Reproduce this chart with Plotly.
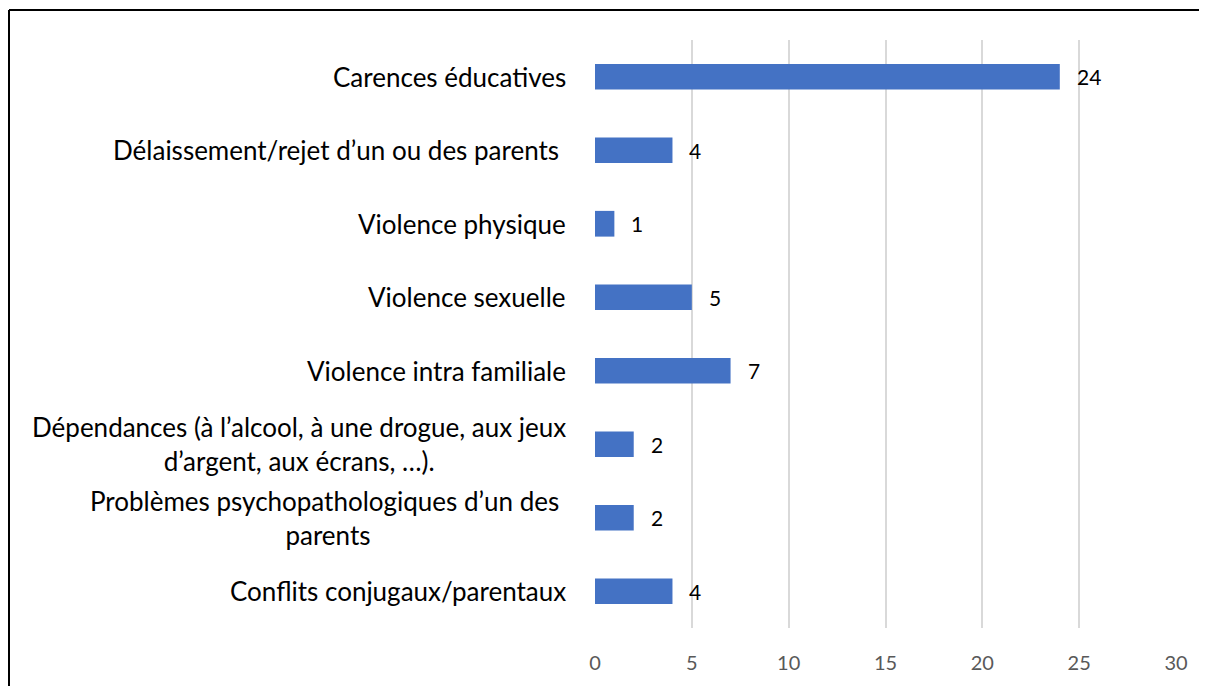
import plotly.graph_objects as go

categories = [
    "Carences éducatives",
    "Délaissement/rejet d’un ou des parents\u00a0",
    "Violence physique",
    "Violence sexuelle",
    "Violence intra familiale",
    "Dépendances (à l’alcool, à une drogue, aux jeux<br>d’argent, aux écrans, …).",
    "Problèmes psychopathologiques d’un des\u00a0<br>parents",
    "Conflits conjugaux/parentaux",
]
values = [24, 4, 1, 5, 7, 2, 2, 4]
x_ticks = [0, 5, 10, 15, 20, 25, 30]

OFF = 8  # page body margin
W, H = 1207 - OFF, 686 - OFF
L, R, T, B = 595 - OFF, 1176 - OFF, 40 - OFF, 630 - OFF

fig = go.Figure()
fig.add_trace(go.Bar(
    y=categories, x=values, orientation="h",
    marker=dict(color="#4472C4", line=dict(width=0)),
    width=0.35, hoverinfo="x+y",
))

annotations = []
for c, v in zip(categories, values):
    annotations.append(dict(
        x=0, y=c, xref="x", yref="y", text=c, showarrow=False,
        xanchor="right", yanchor="middle", align="center", xshift=-27,
        font=dict(family="Lato", size=26, color="#000000"),
    ))
    annotations.append(dict(
        x=v, y=c, xref="x", yref="y", text=str(v), showarrow=False,
        xanchor="left", yanchor="middle", xshift=15,
        font=dict(family="Lato", size=21, color="#000000"),
    ))

pw = R - L
ph = B - T
bx, by = 9 - OFF, 10 - OFF
shapes = [
    dict(type="line", xref="paper", yref="paper",
         x0=(bx - L) / pw, x1=(W + 20 - L) / pw,
         y0=(B - by) / ph, y1=(B - by) / ph,
         line=dict(color="#000000", width=2)),
    dict(type="line", xref="paper", yref="paper",
         x0=(bx - L) / pw, x1=(bx - L) / pw,
         y0=(B - by) / ph, y1=(B - H - 20) / ph,
         line=dict(color="#000000", width=2)),
]

fig.update_layout(
    width=W, height=H,
    margin=dict(l=L, r=W - R, t=T, b=H - B, pad=0),
    paper_bgcolor="white", plot_bgcolor="white",
    showlegend=False,
    annotations=annotations,
    shapes=shapes,
    xaxis=dict(
        range=[0, 30], tickvals=x_ticks, showgrid=True,
        gridcolor="#D9D9D9", gridwidth=2, zeroline=False,
        showline=False, ticks="",
        tickfont=dict(family="Lato", size=20, color="#595959"),
        ticklabelstandoff=21, fixedrange=True,
    ),
    yaxis=dict(
        categoryorder="array", categoryarray=categories[::-1],
        showticklabels=False, showgrid=False, zeroline=False,
        showline=False, fixedrange=True,
    ),
)

fig.write_html("out.html")
